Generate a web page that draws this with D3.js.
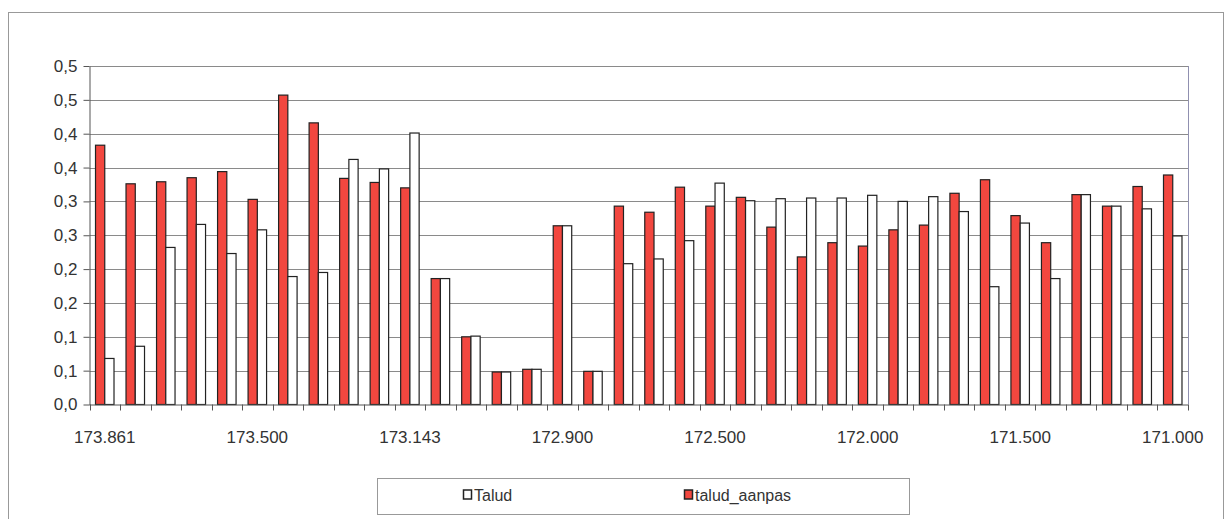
<!DOCTYPE html>
<meta charset="utf-8">
<style>
body { margin: 0; background: #fff; }
svg { display: block; }
text { font-family: "Liberation Sans", Arial, sans-serif; fill: #333; }
.grid line { stroke: #8a8a8a; stroke-width: 1; }
.axis path, .axis line { stroke: #555; }
</style>
<svg width="1229" height="519"></svg>
<script src="https://d3js.org/d3.v7.min.js"></script>
<script>
// kilometre positions, one per group (every 5th one is labelled)
var categories = ["173.861","173.800","173.700","173.600","173.550","173.500","173.400","173.300","173.200","173.150",
  "173.143","173.100","173.050","173.000","172.950","172.900","172.800","172.700","172.650","172.600",
  "172.500","172.400","172.300","172.200","172.100","172.000","171.900","171.800","171.700","171.600",
  "171.500","171.400","171.300","171.200","171.100","171.000"];

var taludAanpas = [0.383,0.326,0.329,0.335,0.344,0.303,0.457,0.416,0.334,0.328,
  0.320,0.186,0.100,0.048,0.052,0.264,0.049,0.293,0.284,0.321,
  0.293,0.306,0.262,0.218,0.239,0.234,0.258,0.265,0.312,0.332,
  0.279,0.239,0.310,0.293,0.322,0.339];

var talud = [0.068,0.086,0.232,0.266,0.223,0.258,0.189,0.195,0.362,0.348,
  0.401,0.186,0.101,0.048,0.052,0.264,0.049,0.208,0.215,0.242,
  0.327,0.301,0.304,0.305,0.305,0.309,0.300,0.307,0.285,0.174,
  0.268,0.186,0.310,0.293,0.289,0.249];

var yTicks = [0,0.05,0.1,0.15,0.2,0.25,0.3,0.35,0.4,0.45,0.5];
var yTickLabels = ["0,0","0,1","0,1","0,2","0,2","0,3","0,3","0,4","0,4","0,5","0,5"];
var legendNames = ["Talud","talud_aanpas"];

var svg = d3.select("svg");
var plotLeft = 89.5, plotRight = 1188, plotTop = 66, plotBottom = 404.5;

// outer chart frame
svg.append("rect")
    .attr("x", 8.5).attr("y", 12.5)
    .attr("width", 1215).attr("height", 520)
    .attr("fill", "none").attr("stroke", "#999");

var x0 = d3.scaleBand().domain(categories).range([plotLeft, plotRight]).padding(0);
var x1 = d3.scaleBand().domain(["aanpas","talud"]).range([0, x0.bandwidth()])
    .paddingInner(0).paddingOuter(0.65);
var y = d3.scaleLinear().domain([0, 0.5]).range([plotBottom, plotTop]);

// gridlines
svg.append("g").attr("class", "grid")
  .selectAll("line").data(yTicks.slice(1)).enter().append("line")
    .attr("x1", plotLeft).attr("x2", plotRight)
    .attr("y1", function(d) { return Math.round(y(d)) + 0.5; })
    .attr("y2", function(d) { return Math.round(y(d)) + 0.5; });

// right border of plot area
svg.append("line")
    .attr("x1", plotRight + 0.5).attr("x2", plotRight + 0.5)
    .attr("y1", plotTop).attr("y2", plotBottom)
    .attr("stroke", "#9090b0");

var groups = svg.append("g").selectAll("g")
    .data(categories).enter().append("g")
    .attr("transform", function(d) { return "translate(" + x0(d) + ",0)"; });

groups.append("rect")
    .attr("x", x1("aanpas"))
    .attr("y", function(d, i) { return y(taludAanpas[i]); })
    .attr("width", x1.bandwidth())
    .attr("height", function(d, i) { return y(0) - y(taludAanpas[i]); })
    .attr("fill", "#f2473f").attr("stroke", "#222").attr("stroke-width", 1.2);

groups.append("rect")
    .attr("x", x1("talud"))
    .attr("y", function(d, i) { return y(talud[i]); })
    .attr("width", x1.bandwidth())
    .attr("height", function(d, i) { return y(0) - y(talud[i]); })
    .attr("fill", "#fff").attr("stroke", "#222").attr("stroke-width", 1.2);

// y axis
var yAxis = svg.append("g").attr("class", "axis")
    .attr("transform", "translate(" + plotLeft + ",0)")
    .call(d3.axisLeft(y).tickValues(yTicks).tickSize(6).tickSizeOuter(0)
        .tickFormat(function(d, i) { return yTickLabels[i]; }));
yAxis.selectAll("text").style("font-size", "17px").attr("x", -12);

// x axis: tick marks on category boundaries, labels every 5th category
var bounds = categories.map(function(c) { return x0(c); }).concat([plotRight]);
svg.append("g").attr("class", "axis")
  .selectAll("line").data(bounds).enter().append("line")
    .attr("x1", function(d) { return Math.round(d) + 0.5; })
    .attr("x2", function(d) { return Math.round(d) + 0.5; })
    .attr("y1", plotBottom).attr("y2", plotBottom + 6);
svg.append("line")
    .attr("x1", plotLeft).attr("x2", plotRight)
    .attr("y1", plotBottom + 0.5).attr("y2", plotBottom + 0.5)
    .attr("stroke", "#555");

var xAxis = svg.append("g").attr("class", "axis")
    .attr("transform", "translate(0," + plotBottom + ")")
    .call(d3.axisBottom(x0).tickSize(0)
        .tickValues(categories.filter(function(d, i) { return i % 5 === 0; })));
xAxis.select(".domain").remove();
xAxis.selectAll("text").style("font-size", "17px").attr("y", 26);

// legend
var legend = svg.append("g");
legend.append("rect")
    .attr("x", 377.5).attr("y", 478.5).attr("width", 532).attr("height", 36)
    .attr("fill", "#fff").attr("stroke", "#999");
var legendX = [463, 684];
legendNames.forEach(function(name, i) {
  legend.append("rect")
      .attr("x", legendX[i] + 0.5).attr("y", 490).attr("width", 8).attr("height", 9)
      .attr("fill", i === 0 ? "#fff" : "#f2473f")
      .attr("stroke", "#222").attr("stroke-width", 1.5);
  legend.append("text")
      .attr("x", legendX[i] + 11).attr("y", 501)
      .style("font-size", "16px")
      .text(name);
});
</script>
